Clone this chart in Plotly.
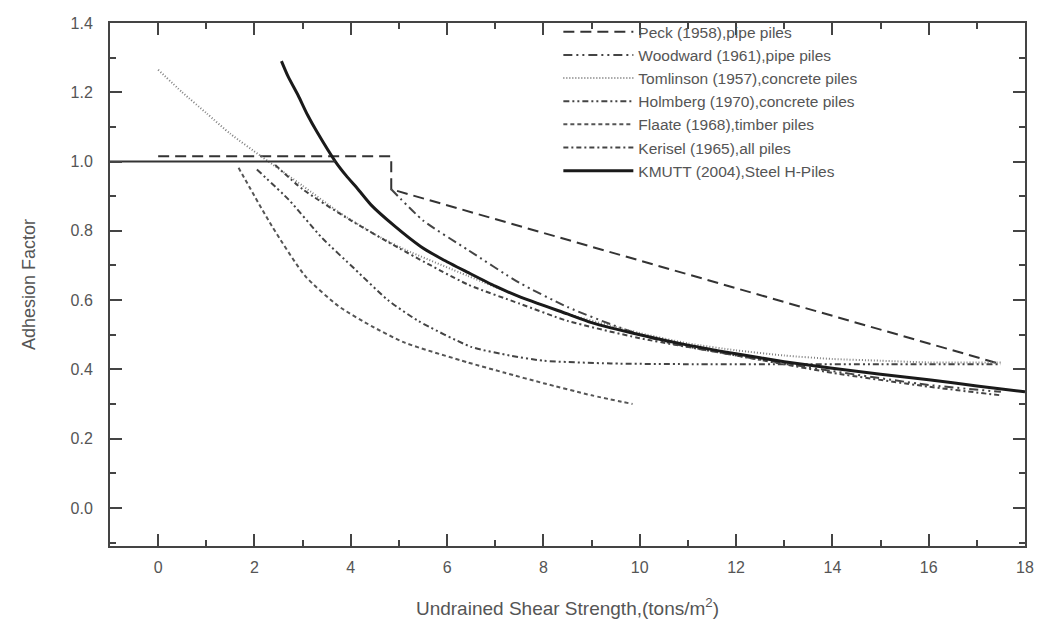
import plotly.graph_objects as go

# ---- data ----
peck_x = [0.0, 4.84, 4.84, 17.5]
peck_y = [1.015, 1.015, 0.92, 0.415]

woodward_x = [4.84, 5.5, 6.43, 7.5, 8.5, 9.5, 10.5, 12.0, 14.0, 16.0, 17.5]
woodward_y = [0.92, 0.83, 0.745, 0.65, 0.58, 0.525, 0.48, 0.44, 0.395, 0.355, 0.335]

tomlinson_x = [0.0, 0.5, 1.0, 1.5, 2.15, 3.0, 3.74, 4.5, 5.12, 6.43, 7.5, 8.5, 10.0, 11.0, 12.0, 13.0, 14.0, 15.0, 16.0, 17.5]
tomlinson_y = [1.265, 1.2, 1.14, 1.08, 1.014, 0.93, 0.855, 0.79, 0.746, 0.67, 0.61, 0.56, 0.505, 0.475, 0.455, 0.44, 0.43, 0.425, 0.42, 0.42]

holmberg_x = [2.05, 2.71, 3.4, 4.08, 4.77, 5.4, 6.5, 7.3, 8.0, 9.4, 11.0, 13.0, 15.0, 17.5]
holmberg_y = [0.977, 0.89, 0.78, 0.69, 0.6, 0.54, 0.465, 0.44, 0.425, 0.417, 0.415, 0.415, 0.415, 0.415]

flaate_x = [1.67, 2.36, 3.05, 3.74, 4.43, 5.12, 6.43, 7.2, 8.0, 9.0, 9.85]
flaate_y = [0.982, 0.814, 0.67, 0.583, 0.525, 0.477, 0.42, 0.39, 0.36, 0.325, 0.30]

kerisel_x = [2.43, 3.0, 4.0, 5.0, 6.43, 7.5, 8.5, 10.0, 12.0, 14.0, 16.0, 17.5]
kerisel_y = [0.99, 0.92, 0.83, 0.75, 0.645, 0.59, 0.54, 0.49, 0.44, 0.39, 0.35, 0.325]

kmutt_x = [2.56, 2.7, 2.91, 3.1, 3.3, 3.68, 3.9, 4.15, 4.42, 4.9, 5.45, 5.9, 6.43, 7.0, 7.5, 8.5, 9.0, 10.0, 11.0, 12.0, 13.0, 14.0, 15.0, 16.0, 17.0, 18.0]
kmutt_y = [1.29, 1.245, 1.19, 1.135, 1.085, 1.0, 0.96, 0.92, 0.875, 0.815, 0.755, 0.718, 0.68, 0.64, 0.61, 0.56, 0.535, 0.5, 0.47, 0.445, 0.422, 0.403, 0.386, 0.37, 0.352, 0.335]

ref_x = [-1.0, 3.68]
ref_y = [1.0, 1.0]

names = ["Peck (1958),pipe piles", "Woodward (1961),pipe piles",
         "Tomlinson (1957),concrete piles", "Holmberg (1970),concrete piles",
         "Flaate (1968),timber piles", "Kerisel (1965),all piles",
         "KMUTT (2004),Steel H-Piles"]

x_ticks = [0, 2, 4, 6, 8, 10, 12, 14, 16, 18]
y_ticks = [0.0, 0.2, 0.4, 0.6, 0.8, 1.0, 1.2, 1.4]

FONT = "Liberation Sans, Arial, sans-serif"

fig = go.Figure()

def add(x, y, name, color, width, dash, show=True, shape="spline"):
    fig.add_trace(go.Scatter(x=x, y=y, mode="lines", name=name, showlegend=show,
                             line=dict(color=color, width=width, dash=dash, shape=shape,
                                       smoothing=0.6 if shape == "spline" else None)))

add(peck_x, peck_y, names[0], "#333333", 2, "11px,6px", shape="linear")
add(woodward_x, woodward_y, names[1], "#444444", 2, "9px,4px,2px,4px,2px,4px")
add(tomlinson_x, tomlinson_y, names[2], "#808080", 2, "1px,2px")
add(holmberg_x, holmberg_y, names[3], "#444444", 2, "6px,3px,2px,3px,2px,3px")
add(flaate_x, flaate_y, names[4], "#555555", 2, "4px,3px")
add(kerisel_x, kerisel_y, names[5], "#444444", 2, "5px,3px,2px,3px")
add(kmutt_x, kmutt_y, names[6], "#1a1a1a", 3, "solid")
add(ref_x, ref_y, "ref", "#333333", 2, "solid", show=False, shape="linear")

axis_common = dict(
    showgrid=False, zeroline=False, showline=True, linecolor="#444444", linewidth=2,
    mirror="ticks", ticks="inside", ticklen=12, tickwidth=1.5, tickcolor="#444444",
    tickfont=dict(family=FONT, size=16, color="#555555"),
)

fig.update_xaxes(range=[-1, 18], tickvals=x_ticks, ticktext=[str(v) for v in x_ticks],
                 ticklabelstandoff=6,
                 minor=dict(dtick=1, tick0=1, ticks="inside", ticklen=6, tickcolor="#444444", tickwidth=1.5),
                 title=dict(text="Undrained Shear Strength,(tons/m<sup>2</sup>)",
                            font=dict(family=FONT, size=19, color="#555555"), standoff=26),
                 **axis_common)
fig.update_yaxes(range=[-0.11, 1.4], tickvals=y_ticks, ticktext=[f"{v:.1f}" for v in y_ticks],
                 ticklabelstandoff=12,
                 minor=dict(dtick=0.1, tick0=0.1, ticks="inside", ticklen=6, tickcolor="#444444", tickwidth=1.5),
                 title=dict(text="Adhesion Factor", font=dict(family=FONT, size=18, color="#555555"), standoff=30),
                 **axis_common)

fig.update_layout(
    width=1046, height=628,
    margin=dict(l=110, r=16, t=23, b=81),
    paper_bgcolor="white", plot_bgcolor="white",
    legend=dict(x=0.49, y=1.015, xanchor="left", yanchor="top",
                bgcolor="rgba(255,255,255,0)", borderwidth=0,
                font=dict(family=FONT, size=15.5, color="#555555"),
                itemwidth=70, tracegroupgap=0),
)

fig.write_html("out.html")
